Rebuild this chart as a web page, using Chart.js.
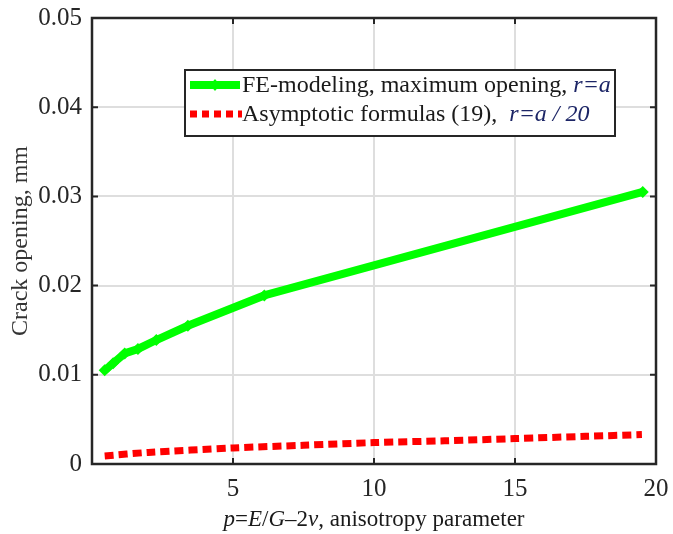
<!DOCTYPE html>
<html lang="en">
<head>
    <meta charset="UTF-8">
    <script src="https://cdn.jsdelivr.net/npm/chart.js@4.4.1/dist/chart.umd.min.js"></script>
    <title>Crack opening</title>
    <style>
        body { margin: 0; background: #fff; }
    </style>
</head>
<body>
    <canvas id="myChart" width="673" height="534"></canvas>

    <script>
// data
const xFE = [0.45, 0.75, 1.16, 1.63, 2.28, 3.4, 6.11, 19.53];
const yFE = [0.0105, 0.0113, 0.0124, 0.0129, 0.0139, 0.0155, 0.0189, 0.0305];
const xAsym = [0.45, 2, 5, 7.5, 10, 12.5, 15, 17.5, 19.5];
const yAsym = [0.0009, 0.0013, 0.0018, 0.0021, 0.0024, 0.0026, 0.00285, 0.0031, 0.0033];
const xTicks = [5, 10, 15, 20];
const yTicks = [0, 0.01, 0.02, 0.03, 0.04, 0.05];

const serif = '"Liberation Serif", "Times New Roman", serif';
const frameColor = '#262626';

// draws a line of text made from pieces with their own style
function drawPieces(ctx, pieces, x, y, align) {
    let total = 0;
    pieces.forEach(p => { ctx.font = p.font; total += ctx.measureText(p.t).width; });
    let cx = align === 'center' ? x - total / 2 : x;
    pieces.forEach(p => {
        ctx.font = p.font;
        ctx.fillStyle = p.color || '#1a1a1a';
        ctx.fillText(p.t, cx, y);
        cx += ctx.measureText(p.t).width;
    });
}

const extras = {
    id: 'extras',
    afterDraw(chart) {
        const ctx = chart.ctx;
        const a = chart.chartArea;
        const xs = chart.scales.x, ys = chart.scales.y;
        ctx.save();
        // box
        ctx.strokeStyle = frameColor;
        ctx.lineWidth = 2.5;
        ctx.strokeRect(a.left, a.top, a.right - a.left, a.bottom - a.top);
        // inward ticks
        ctx.lineWidth = 2;
        xTicks.forEach(v => {
            const px = xs.getPixelForValue(v);
            ctx.beginPath();
            ctx.moveTo(px, a.bottom); ctx.lineTo(px, a.bottom - 6);
            ctx.moveTo(px, a.top); ctx.lineTo(px, a.top + 6);
            ctx.stroke();
        });
        yTicks.forEach(v => {
            const py = ys.getPixelForValue(v);
            ctx.beginPath();
            ctx.moveTo(a.left, py); ctx.lineTo(a.left + 6, py);
            ctx.moveTo(a.right, py); ctx.lineTo(a.right - 6, py);
            ctx.stroke();
        });

        // legend
        const lx = 185, ly = 70, lw = 430, lh = 66;
        ctx.fillStyle = '#fff';
        ctx.fillRect(lx, ly, lw, lh);
        ctx.strokeStyle = frameColor;
        ctx.lineWidth = 2;
        ctx.strokeRect(lx, ly, lw, lh);

        ctx.lineCap = 'butt';
        ctx.strokeStyle = '#00ff00';
        ctx.lineWidth = 8;
        ctx.beginPath(); ctx.moveTo(lx + 5, ly + 15); ctx.lineTo(lx + 55, ly + 15); ctx.stroke();
        ctx.fillStyle = '#00ff00';
        ctx.beginPath();
        ctx.moveTo(lx + 30, ly + 9); ctx.lineTo(lx + 35, ly + 15); ctx.lineTo(lx + 30, ly + 21); ctx.lineTo(lx + 25, ly + 15);
        ctx.closePath(); ctx.fill();

        ctx.strokeStyle = '#ff0000';
        ctx.lineWidth = 7;
        ctx.setLineDash([7, 5]);
        ctx.beginPath(); ctx.moveTo(lx + 5, ly + 44); ctx.lineTo(lx + 57, ly + 44); ctx.stroke();
        ctx.setLineDash([]);

        ctx.textBaseline = 'middle';
        const reg = '24px ' + serif;
        const ita = 'italic 24px ' + serif;
        drawPieces(ctx, [
            { t: 'FE-modeling, maximum opening, ', font: reg },
            { t: 'r=a', font: ita, color: '#1c2566' }
        ], lx + 57, ly + 16, 'left');
        drawPieces(ctx, [
            { t: 'Asymptotic formulas (19),  ', font: reg },
            { t: 'r=a / 20', font: ita, color: '#1c2566' }
        ], lx + 57, ly + 45, 'left');

        // x axis title
        const tr = '23px ' + serif, ti = 'italic 23px ' + serif;
        drawPieces(ctx, [
            { t: 'p', font: ti }, { t: '=', font: tr }, { t: 'E', font: ti }, { t: '/', font: tr },
            { t: 'G', font: ti }, { t: '\u20132', font: tr }, { t: '\u03bd', font: ti },
            { t: ', anisotropy parameter', font: tr }
        ], (a.left + a.right) / 2, 520, 'center');
        ctx.restore();
    }
};

const ctx = document.getElementById('myChart').getContext('2d');
new Chart(ctx, {
    type: 'line',
    data: {
        datasets: [{
            label: 'FE-modeling, maximum opening, r=a',
            data: xFE.map((x, i) => ({ x: x, y: yFE[i] })),
            borderColor: '#00ff00',
            backgroundColor: '#00ff00',
            borderWidth: 8,
            pointStyle: 'rectRot',
            pointRadius: 6,
            pointBorderWidth: 0,
            tension: 0
        }, {
            label: 'Asymptotic formulas (19), r=a / 20',
            data: xAsym.map((x, i) => ({ x: x, y: yAsym[i] })),
            borderColor: '#ff0000',
            borderWidth: 7,
            borderDash: [9, 5],
            borderCapStyle: 'butt',
            pointRadius: 0,
            tension: 0.3
        }]
    },
    options: {
        responsive: false,
        animation: false,
        layout: { padding: { top: 18, right: 17, left: 0, bottom: 0 } },
        plugins: { legend: { display: false }, tooltip: { enabled: false } },
        scales: {
            x: {
                type: 'linear',
                min: 0, max: 20,
                afterBuildTicks: s => { s.ticks = [0].concat(xTicks).map(v => ({ value: v })); },
                afterFit: s => { s.height = 70; s.paddingLeft = 0; s.paddingRight = 0; },
                border: { display: false },
                grid: { color: '#dedede', lineWidth: 2, drawTicks: false },
                ticks: {
                    padding: 10,
                    color: '#262626',
                    font: { family: serif, size: 25 },
                    callback: v => v === 0 ? '' : String(v)
                }
            },
            y: {
                type: 'linear',
                min: 0, max: 0.05,
                afterBuildTicks: s => { s.ticks = yTicks.map(v => ({ value: v })); },
                afterFit: s => { s.width = 92; s.paddingTop = 0; s.paddingBottom = 0; },
                border: { display: false },
                grid: { color: '#dedede', lineWidth: 2, drawTicks: false },
                title: {
                    display: true,
                    text: 'Crack opening, mm',
                    color: '#333333',
                    font: { family: serif, size: 24 },
                    padding: { top: 6, bottom: 0 }
                },
                ticks: {
                    padding: 10,
                    color: '#262626',
                    font: { family: serif, size: 25 },
                    callback: v => v === 0 ? '0' : v.toFixed(2)
                }
            }
        }
    },
    plugins: [extras]
});
    </script>
</body>
</html>
